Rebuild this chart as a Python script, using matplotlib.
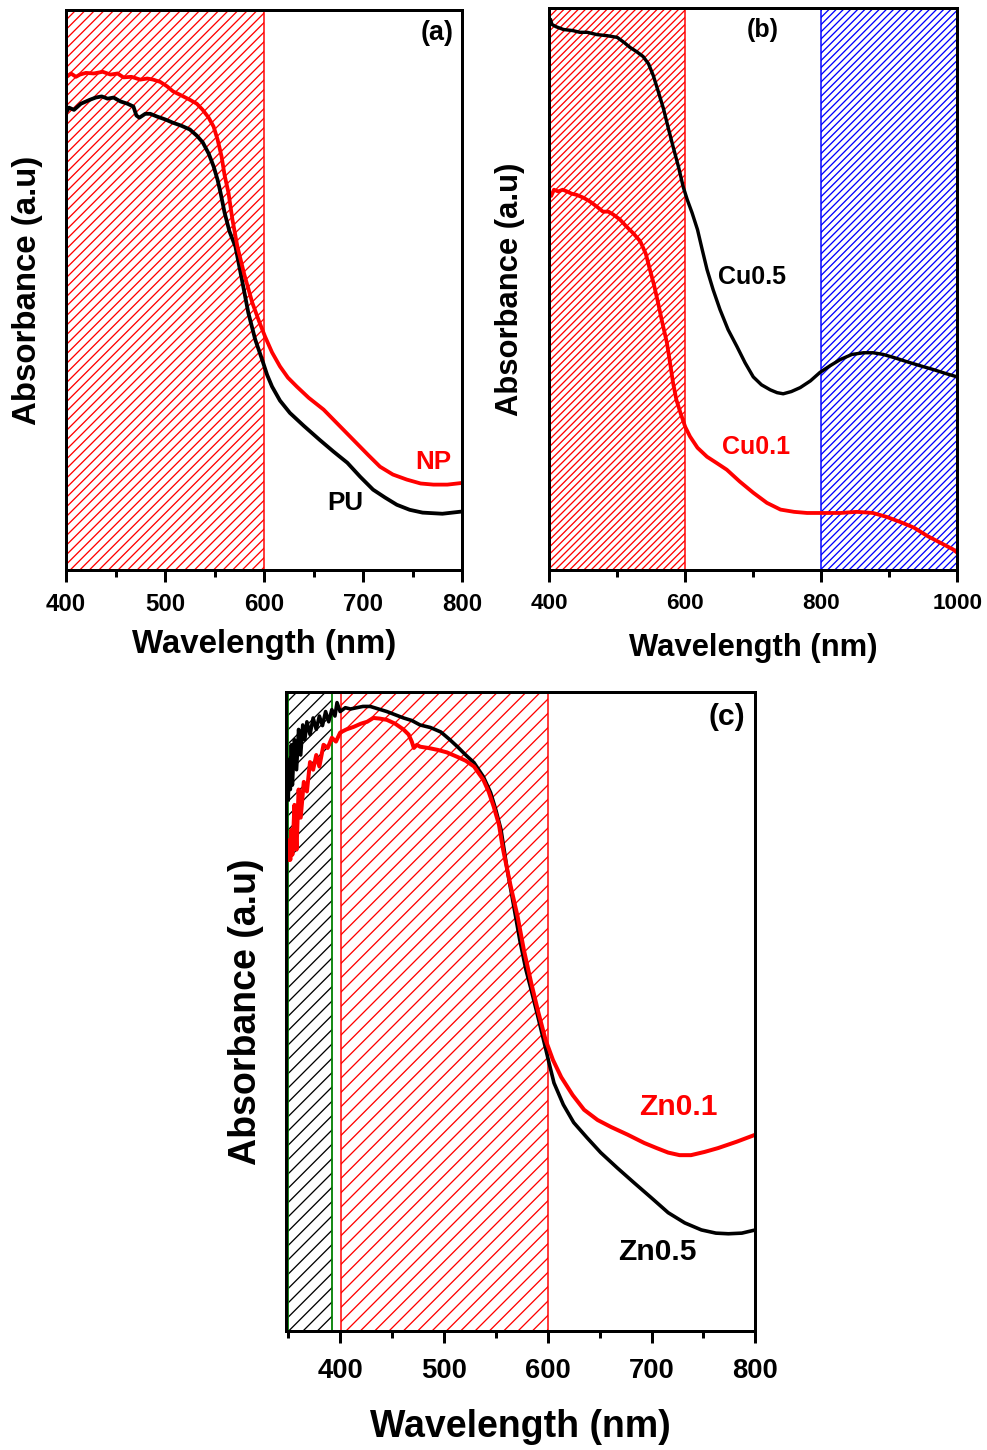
import matplotlib
matplotlib.use('Agg')
import matplotlib.pyplot as plt
from matplotlib.ticker import MultipleLocator

DPI = 86


def pt(px):
    # sizes below are measured in pixels of the reference, convert to points
    return px * 72.0 / DPI


plt.rcParams['font.family'] = ['Liberation Sans', 'DejaVu Sans']
plt.rcParams['font.weight'] = 'bold'
plt.rcParams['hatch.linewidth'] = pt(1.3)

# ---- panel (a) ----
wl_np = [400, 405, 410, 414, 420, 428, 437, 445, 452, 458, 466, 475, 482, 488, 495, 502, 508, 515,
         525, 532, 538, 544, 549, 553, 557, 560, 564, 568, 573, 580, 588, 595, 601, 608, 616, 624,
         633, 645, 660, 675, 690, 705, 717, 730, 744, 758, 771, 785, 800]
abs_np = [0.879, 0.886, 0.880, 0.884, 0.887, 0.886, 0.889, 0.884, 0.886, 0.879, 0.880, 0.875, 0.877,
          0.875, 0.871, 0.863, 0.854, 0.848, 0.839, 0.832, 0.821, 0.807, 0.791, 0.768, 0.738, 0.705,
          0.673, 0.625, 0.577, 0.527, 0.477, 0.443, 0.416, 0.388, 0.363, 0.343, 0.327, 0.307, 0.286,
          0.259, 0.232, 0.205, 0.184, 0.170, 0.161, 0.154, 0.152, 0.152, 0.155]
wl_pu = [400, 403, 408, 415, 424, 430, 436, 442, 448, 455, 462, 468, 471, 474, 480, 485, 492, 500,
         508, 516, 525, 532, 538, 544, 549, 553, 556, 560, 565, 571, 578, 584, 591, 598, 603, 608,
         616, 626, 640, 656, 670, 684, 697, 710, 722, 734, 747, 760, 780, 800]
abs_pu = [0.816, 0.825, 0.821, 0.832, 0.839, 0.843, 0.845, 0.841, 0.843, 0.836, 0.832, 0.827, 0.811,
          0.807, 0.814, 0.814, 0.809, 0.804, 0.798, 0.793, 0.786, 0.775, 0.763, 0.743, 0.720, 0.696,
          0.673, 0.638, 0.604, 0.577, 0.514, 0.459, 0.411, 0.375, 0.348, 0.327, 0.302, 0.280, 0.257,
          0.232, 0.211, 0.191, 0.166, 0.143, 0.129, 0.116, 0.107, 0.102, 0.100, 0.104]

# ---- panel (b) ----
wl_cu5 = [400, 402, 404, 410, 421, 435, 445, 456, 470, 485, 500, 510, 519, 528, 538, 546, 553, 560,
          568, 575, 582, 590, 597, 603, 610, 618, 625, 632, 641, 651, 663, 676, 688, 700, 712, 725,
          735, 744, 756, 769, 784, 798, 813, 828, 845, 862, 876, 891, 908, 926, 945, 965, 983, 1000]
abs_cu5 = [0.970, 0.979, 0.970, 0.966, 0.961, 0.959, 0.956, 0.956, 0.952, 0.950, 0.947, 0.938, 0.929,
           0.922, 0.913, 0.900, 0.879, 0.852, 0.820, 0.786, 0.753, 0.717, 0.681, 0.658, 0.635, 0.605,
           0.569, 0.534, 0.498, 0.463, 0.427, 0.397, 0.368, 0.343, 0.329, 0.320, 0.315, 0.313, 0.317,
           0.324, 0.336, 0.351, 0.363, 0.374, 0.383, 0.386, 0.386, 0.383, 0.377, 0.370, 0.363, 0.356,
           0.349, 0.343]
wl_cu1 = [400, 403, 407, 413, 420, 426, 433, 440, 450, 460, 470, 479, 487, 494, 504, 514, 524, 534,
          542, 548, 554, 560, 566, 573, 578, 582, 587, 593, 600, 607, 618, 632, 646, 661, 680, 700,
          720, 740, 760, 779, 800, 828, 852, 876, 896, 916, 936, 956, 975, 994, 1000]
abs_cu1 = [0.671, 0.665, 0.676, 0.673, 0.676, 0.673, 0.669, 0.667, 0.662, 0.655, 0.646, 0.637, 0.637,
           0.632, 0.623, 0.610, 0.598, 0.584, 0.562, 0.534, 0.507, 0.475, 0.441, 0.404, 0.365, 0.333,
           0.302, 0.279, 0.254, 0.237, 0.217, 0.201, 0.190, 0.178, 0.157, 0.137, 0.119, 0.107, 0.103,
           0.101, 0.101, 0.101, 0.103, 0.101, 0.094, 0.085, 0.075, 0.060, 0.048, 0.036, 0.030]

# ---- panel (c) ----
wl_zn5 = [350, 351, 352, 353, 354, 356, 358, 360, 362, 364, 366, 368, 371, 374, 377, 380, 383, 386,
          389, 392, 395, 397, 400, 405, 410, 416, 422, 429, 437, 445, 453, 461, 469, 477, 487, 497,
          505, 513, 521, 529, 538, 545, 550, 555, 561, 567, 573, 579, 584, 590, 596, 601, 606, 615,
          625, 638, 651, 667, 683, 700, 716, 732, 748, 762, 774, 787, 800]
abs_zn5 = [0.831, 0.894, 0.847, 0.917, 0.854, 0.925, 0.878, 0.941, 0.901, 0.948, 0.925, 0.953, 0.933,
           0.959, 0.941, 0.962, 0.947, 0.969, 0.953, 0.972, 0.962, 0.983, 0.969, 0.975, 0.973, 0.975,
           0.977, 0.977, 0.973, 0.969, 0.964, 0.959, 0.955, 0.948, 0.944, 0.937, 0.926, 0.914, 0.901,
           0.889, 0.867, 0.842, 0.815, 0.784, 0.721, 0.667, 0.612, 0.565, 0.534, 0.495, 0.455, 0.421,
           0.388, 0.354, 0.326, 0.302, 0.279, 0.255, 0.232, 0.208, 0.185, 0.169, 0.158, 0.153, 0.152,
           0.153, 0.158]
wl_zn1 = [350, 351, 352, 353, 354, 356, 358, 360, 362, 365, 368, 371, 374, 377, 380, 384, 388, 392,
          396, 400, 406, 413, 420, 426, 432, 438, 445, 453, 461, 466, 469, 471, 474, 477, 485, 494,
          503, 513, 521, 529, 538, 543, 548, 553, 557, 564, 571, 577, 584, 591, 598, 605, 613, 624,
          635, 648, 661, 677, 693, 705, 716, 727, 738, 751, 764, 782, 800]
abs_zn1 = [0.737, 0.768, 0.737, 0.784, 0.745, 0.823, 0.753, 0.847, 0.803, 0.859, 0.844, 0.890, 0.878,
           0.901, 0.883, 0.917, 0.912, 0.928, 0.922, 0.936, 0.941, 0.945, 0.950, 0.953, 0.959, 0.958,
           0.956, 0.950, 0.941, 0.933, 0.922, 0.912, 0.917, 0.914, 0.912, 0.909, 0.905, 0.898, 0.892,
           0.883, 0.862, 0.844, 0.820, 0.792, 0.753, 0.698, 0.648, 0.596, 0.545, 0.498, 0.455, 0.424,
           0.397, 0.369, 0.346, 0.330, 0.319, 0.307, 0.294, 0.286, 0.279, 0.275, 0.275, 0.280, 0.286,
           0.296, 0.307]

fig = plt.figure(figsize=(987.4 / DPI, 1450.4 / DPI), dpi=DPI)
ax_a = fig.add_axes([0.0669, 0.6069, 0.4012, 0.3862])
ax_b = fig.add_axes([0.5562, 0.6069, 0.4134, 0.3876])
ax_c = fig.add_axes([0.2898, 0.0821, 0.4752, 0.4407])


def style(ax, xlim, major, minor, tick_px, label_px, xpad_px, ypad_px, tpad_px):
    ax.set_xlim(*xlim)
    ax.set_ylim(0, 1)
    ax.xaxis.set_major_locator(MultipleLocator(major))
    ax.xaxis.set_minor_locator(MultipleLocator(minor))
    ax.set_yticks([])
    for s in ax.spines.values():
        s.set_linewidth(pt(3))
        s.set_zorder(5)
    ax.tick_params(axis='x', which='major', direction='out', length=pt(12), width=pt(3),
                   labelsize=pt(tick_px), pad=pt(tpad_px))
    ax.tick_params(axis='x', which='minor', direction='out', length=pt(6.5), width=pt(3))
    for lab in ax.get_xticklabels():
        lab.set_fontweight('bold')
    ax.set_xlabel('Wavelength (nm)', fontsize=pt(label_px), fontweight='bold', labelpad=pt(xpad_px))
    ax.set_ylabel('Absorbance (a.u)', fontsize=pt(label_px), fontweight='bold', labelpad=pt(ypad_px))


def note(ax, x, y, s, size_px, color='black'):
    ax.text(x, y, s, transform=ax.transAxes, fontsize=pt(size_px), color=color,
            ha='center', va='center', fontweight='bold')


# (a)
ax_a.axvspan(400, 600, facecolor='none', edgecolor='red', hatch='///', lw=pt(1.5), zorder=1)
ax_a.plot(wl_pu, abs_pu, color='black', lw=pt(3.8), zorder=3)
ax_a.plot(wl_np, abs_np, color='red', lw=pt(3.8), zorder=3)
style(ax_a, (400, 800), 100, 50, 24, 33, 13, 23, 11)
note(ax_a, 0.937, 0.959, '(a)', 27)
note(ax_a, 0.927, 0.193, 'NP', 26, 'red')
note(ax_a, 0.705, 0.120, 'PU', 26)

# (b)
ax_b.axvspan(400, 600, facecolor='none', edgecolor='red', hatch='////', lw=pt(1.5), zorder=1)
ax_b.axvspan(800, 1000, facecolor='none', edgecolor='blue', hatch='////', lw=pt(1.5), zorder=1)
ax_b.plot(wl_cu5, abs_cu5, color='black', lw=pt(3.4), zorder=3)
ax_b.plot(wl_cu1, abs_cu1, color='red', lw=pt(3.8), zorder=3)
style(ax_b, (400, 1000), 200, 100, 22.5, 31, 19, 24, 11)
note(ax_b, 0.522, 0.961, '(b)', 25)
note(ax_b, 0.498, 0.521, 'Cu0.5', 25)
note(ax_b, 0.507, 0.219, 'Cu0.1', 25, 'red')

# (c)
ax_c.axvspan(350, 392, facecolor='none', edgecolor='black', hatch='//', lw=0, zorder=1)
ax_c.axvspan(350, 392, facecolor='none', edgecolor='green', lw=pt(1.8), zorder=1)
ax_c.axvspan(401, 600, facecolor='none', edgecolor='red', hatch='//', lw=pt(1.5), zorder=1)
ax_c.plot(wl_zn5, abs_zn5, color='black', lw=pt(3.6), zorder=3)
ax_c.plot(wl_zn1, abs_zn1, color='red', lw=pt(4), zorder=3)
style(ax_c, (348, 800), 100, 50, 27.5, 37.5, 25, 22, 15)
note(ax_c, 0.940, 0.961, '(c)', 30)
note(ax_c, 0.836, 0.351, 'Zn0.1', 30, 'red')
note(ax_c, 0.791, 0.124, 'Zn0.5', 30)

fig.savefig('out.png', dpi=DPI)
